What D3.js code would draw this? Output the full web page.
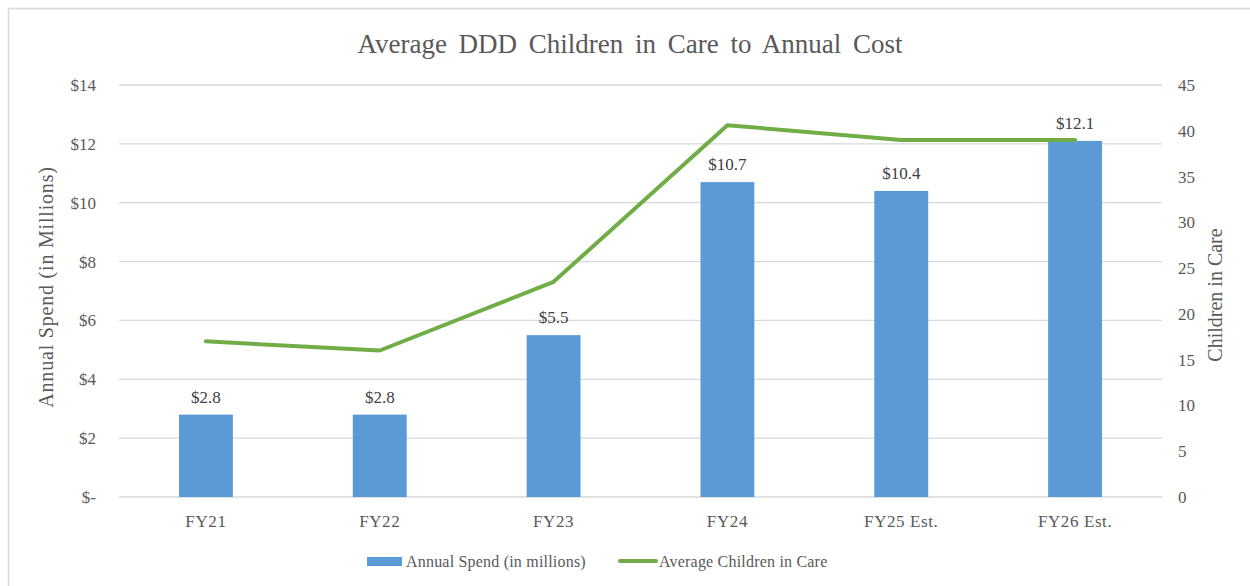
<!DOCTYPE html>
<html><head><meta charset="utf-8">
<script src="https://cdn.jsdelivr.net/npm/d3@7/dist/d3.min.js"></script>
<style>
body{margin:0;background:#fff;}
svg{display:block;}
svg text{font-family:"Liberation Serif","Times New Roman",serif;}
</style></head>
<body><svg id="c" width="1250" height="586"></svg>
<script>
const categories = ["FY21","FY22","FY23","FY24","FY25 Est.","FY26 Est."];
const spend = [2.8, 2.8, 5.5, 10.7, 10.4, 12.1];
const children = [17, 16, 23.5, 40.6, 39, 39];
const leftTicks = [0,2,4,6,8,10,12,14];
const rightTicks = [0,5,10,15,20,25,30,35,40,45];

const svg = d3.select("#c");
const W = 1250, H = 586;
const L = 119, R = 1162, T = 85, B = 497;
const txt = "#595959";
const FF = "'Liberation Serif','Times New Roman',serif";

// chart border
svg.append("rect").attr("x",8.5).attr("y",8.5).attr("width",W).attr("height",H)
  .attr("fill","none").attr("stroke","#d9d9d9").attr("stroke-width",1.5);

const x = d3.scaleBand().domain(categories).range([L,R]).padding(0);
const yL = d3.scaleLinear().domain([0,14]).range([B,T]);
const yR = d3.scaleLinear().domain([0,45]).range([B,T]);

// gridlines
svg.append("g").selectAll("line").data(leftTicks).join("line")
  .attr("x1",L).attr("x2",R).attr("y1",d=>yL(d)).attr("y2",d=>yL(d))
  .attr("stroke","#d9d9d9").attr("stroke-width",1.3);

function styleAxis(g, size, ls){
  g.attr("font-family",FF);
  g.select(".domain").remove();
  g.selectAll("text").attr("fill",txt).style("font-size",size+"px")
    .style("font-family",FF).style("letter-spacing",(ls||0)+"px");
}

// left axis
const gl = svg.append("g").attr("transform",`translate(${L},0)`)
  .call(d3.axisLeft(yL).tickValues(leftTicks).tickSize(0).tickPadding(23)
    .tickFormat(d=> d===0 ? "$-" : "$"+d));
styleAxis(gl,17);

// right axis
const gr = svg.append("g").attr("transform",`translate(${R},0)`)
  .call(d3.axisRight(yR).tickValues(rightTicks).tickSize(0).tickPadding(16));
styleAxis(gr,17);

// bottom axis
const gb = svg.append("g").attr("transform",`translate(0,${B})`)
  .call(d3.axisBottom(x).tickSize(0).tickPadding(18));
styleAxis(gb,17,0.6);

// bars
const bw = x.bandwidth()*0.31;
svg.append("g").selectAll("rect").data(spend).join("rect")
  .attr("x",(d,i)=>x(categories[i])+x.bandwidth()/2-bw/2)
  .attr("width",bw)
  .attr("y",d=>yL(d))
  .attr("height",d=>B-yL(d))
  .attr("fill","#5b9bd5");

// bar labels
svg.append("g").selectAll("text").data(spend).join("text")
  .attr("x",(d,i)=>x(categories[i])+x.bandwidth()/2)
  .attr("y",d=>yL(d)-12)
  .attr("text-anchor","middle").attr("fill","#404040")
  .style("font-size","17px")
  .text(d=>"$"+d.toFixed(1));

// line
const line = d3.line().x((d,i)=>x(categories[i])+x.bandwidth()/2).y(d=>yR(d));
svg.append("path").datum(children).attr("d",line)
  .attr("fill","none").attr("stroke","#70ad47").attr("stroke-width",4)
  .attr("stroke-linejoin","round").attr("stroke-linecap","round");

// title
svg.append("text").attr("x",630).attr("y",53).attr("text-anchor","middle")
  .attr("fill",txt).style("font-size","27px").style("word-spacing","5px")
  .text("Average DDD Children in Care to Annual Cost");

// axis titles
svg.append("text").attr("transform","translate(53,287) rotate(-90)")
  .attr("text-anchor","middle").attr("fill",txt).style("font-size","20px")
  .style("letter-spacing","0.8px")
  .text("Annual Spend (in Millions)");
svg.append("text").attr("transform","translate(1222,295) rotate(-90)")
  .attr("text-anchor","middle").attr("fill",txt).style("font-size","20px")
  .text("Children in Care");

// legend
const lg = svg.append("g");
lg.append("rect").attr("x",367).attr("y",557).attr("width",35).attr("height",9).attr("fill","#5b9bd5");
lg.append("text").attr("x",406).attr("y",567).attr("fill",txt).style("font-size","16px")
  .style("letter-spacing","0.2px").text("Annual Spend (in millions)");
lg.append("line").attr("x1",620).attr("x2",656).attr("y1",561).attr("y2",561)
  .attr("stroke","#70ad47").attr("stroke-width",4).attr("stroke-linecap","round");
lg.append("text").attr("x",659).attr("y",567).attr("fill",txt).style("font-size","16px")
  .style("letter-spacing","0.2px").text("Average Children in Care");
</script>
</body></html>
